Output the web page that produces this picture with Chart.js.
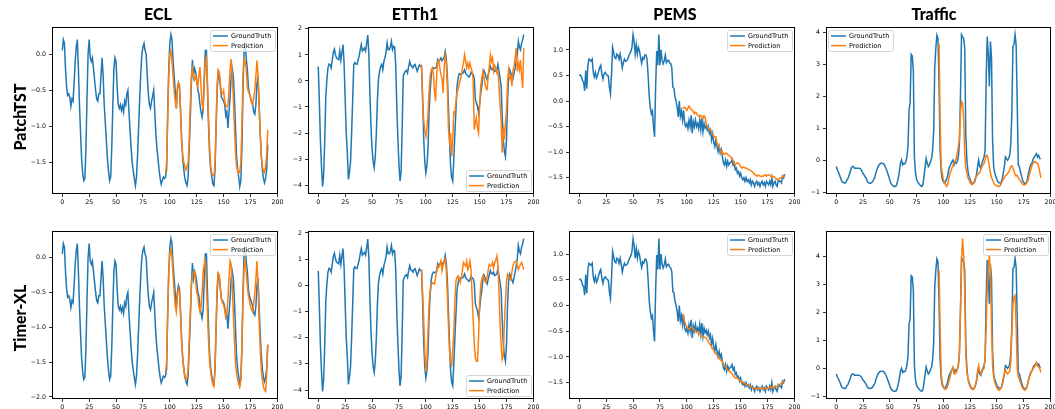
<!DOCTYPE html>
<html>
<head>
<meta charset="utf-8">
<script src="https://cdn.jsdelivr.net/npm/chart.js@4.4.0/dist/chart.umd.min.js"></script>
<style>
  body { margin: 0; background: #fff; }
  #figura { position: relative; width: 1055px; height: 409px; overflow: hidden; }
  .titulo { position: absolute; font-family: Lato, sans-serif; font-weight: 900; font-size: 16px; color: #000; transform: translate(-50%, -50%); white-space: nowrap; }
  .fila { position: absolute; font-family: Lato, sans-serif; font-weight: 900; font-size: 16px; color: #000; transform: translate(-50%, -50%) rotate(-90deg); white-space: nowrap; }
  .panel { position: absolute; }
</style>
</head>
<body>
<div id="figura"></div>
<script>
// ejes
const ticksX = [0, 25, 50, 75, 100, 125, 150, 175, 200]
const etiquetasX = ["0", "25", "50", "75", "100", "125", "150", "175", "200"]
const inicioPred = 96

const eclTicks = [0.0, -0.5, -1.0, -1.5]
const eclEtiquetas = ["0.0", "\u22120.5", "\u22121.0", "\u22121.5"]
const eclTicks2 = [0.0, -0.5, -1.0, -1.5, -2.0]
const eclEtiquetas2 = ["0.0", "\u22120.5", "\u22121.0", "\u22121.5", "\u22122.0"]
const etthTicks = [2, 1, 0, -1, -2, -3, -4]
const etthEtiquetas = ["2", "1", "0", "\u22121", "\u22122", "\u22123", "\u22124"]
const pemsTicks = [1.0, 0.5, 0.0, -0.5, -1.0, -1.5]
const pemsEtiquetas = ["1.0", "0.5", "0.0", "\u22120.5", "\u22121.0", "\u22121.5"]
const trafficTicks = [4, 3, 2, 1, 0, -1]
const trafficEtiquetas = ["4", "3", "2", "1", "0", "\u22121"]

// ECL
const eclTruth = [0.05,0.2,0.15,-0.2,-0.45,-0.57,-0.55,-0.6,-0.72,-0.62,
-0.65,-0.4,-0.1,0.1,0.2,-0.2,-0.7,-1.1,-1.45,-1.65,
-1.75,-1.72,-1.3,-0.6,0.0,0.2,-0.05,-0.1,-0.05,-0.2,
-0.35,-0.5,-0.62,-0.65,-0.55,-0.55,-0.3,-0.05,-0.3,-0.7,
-0.95,-1.2,-1.45,-1.62,-1.75,-1.7,-1.3,-0.7,-0.2,-0.05,
-0.1,-0.45,-0.7,-0.75,-0.7,-0.78,-0.72,-0.8,-0.65,-0.7,
-0.55,-0.5,-0.8,-1.05,-1.3,-1.5,-1.62,-1.72,-1.82,-1.7,
-1.4,-1.0,-0.6,-0.25,0.0,0.1,0.15,0.05,0.0,-0.3,
-0.55,-0.7,-0.75,-0.65,-0.58,-0.5,-0.8,-1.1,-1.3,-1.45,
-1.6,-1.72,-1.8,-1.75,-1.7,-1.72,
-1.7,-1.6,-0.8,-0.2,0.15,0.27,0.2,-0.1,-0.3,-0.5,
-0.75,-0.5,-0.4,-0.45,-0.8,-1.2,-1.45,-1.6,-1.72,-1.78,
-1.82,-1.7,-1.3,-0.9,-0.4,-0.08,-0.3,-0.2,-0.25,-0.35,
-0.5,-0.55,-0.7,-0.8,-0.87,-0.75,-0.3,0.05,0.05,-0.5,
-1.0,-1.4,-1.6,-1.7,-1.8,-1.82,-1.6,-1.0,-0.5,-0.25,
-0.3,-0.45,-0.6,-0.62,-0.65,-0.7,-0.85,-0.8,-1.02,-0.8,
-0.6,-0.3,-0.2,-0.3,-0.6,-1.0,-1.4,-1.6,-1.7,-1.83,
-1.75,-1.3,-0.5,0.05,0.15,-0.05,-0.2,-0.45,-0.55,-0.6,
-0.65,-0.7,-0.8,-0.83,-0.7,-0.4,-0.3,-0.7,-1.1,-1.4,
-1.6,-1.72,-1.78,-1.72,-1.6,-1.25]
const eclPatchTST = [-1.65,-1.5,-0.9,-0.3,0.0,0.05,-0.1,-0.3,-0.5,-0.65,
-0.75,-0.45,-0.4,-0.42,-0.8,-1.2,-1.4,-1.5,-1.55,-1.6,
-1.55,-1.5,-1.2,-0.7,-0.3,-0.2,-0.3,-0.35,-0.3,-0.4,
-0.45,-0.3,-0.18,-0.45,-0.7,-0.75,-0.4,-0.1,-0.05,-0.4,
-0.9,-1.3,-1.55,-1.65,-1.68,-1.68,-1.5,-1.0,-0.4,-0.22,
-0.25,-0.4,-0.55,-0.55,-0.5,-0.65,-0.72,-0.73,-0.7,-0.5,
-0.2,-0.07,-0.3,-0.6,-1.0,-1.35,-1.55,-1.62,-1.65,-1.62,
-1.5,-1.0,-0.3,-0.07,-0.1,-0.2,-0.45,-0.52,-0.55,-0.6,
-0.68,-0.7,-0.6,-0.5,-0.3,-0.09,-0.3,-0.7,-1.1,-1.4,
-1.55,-1.62,-1.64,-1.55,-1.4,-1.05]
const eclTimerXL = [-1.65,-1.5,-0.8,-0.2,0.05,0.12,0.0,-0.25,-0.5,-0.7,
-0.78,-0.55,-0.45,-0.5,-0.85,-1.2,-1.45,-1.6,-1.7,-1.75,
-1.72,-1.6,-1.2,-0.8,-0.4,-0.25,-0.2,-0.2,-0.35,-0.5,
-0.55,-0.7,-0.78,-0.7,-0.5,-0.2,-0.1,-0.05,-0.4,-0.8,
-1.2,-1.5,-1.65,-1.75,-1.82,-1.85,-1.6,-1.0,-0.4,-0.22,
-0.25,-0.45,-0.6,-0.65,-0.68,-0.75,-0.85,-0.8,-0.6,-0.3,
-0.05,-0.1,-0.4,-0.8,-1.2,-1.5,-1.65,-1.75,-1.82,-1.85,
-1.75,-1.3,-0.6,-0.15,-0.05,-0.2,-0.4,-0.55,-0.62,-0.7,
-0.75,-0.78,-0.65,-0.5,-0.3,-0.05,-0.4,-0.9,-1.3,-1.6,
-1.75,-1.85,-1.9,-1.92,-1.7,-1.25]

// ETTh1
const etthTruth = [0.55,-0.8,-2.3,-3.3,-4.05,-3.6,-2.3,-0.6,0.05,0.5,
0.65,0.62,0.5,0.8,1.1,1.22,1.0,0.88,0.85,0.82,
1.15,0.8,1.1,1.4,0.7,-0.7,-2.0,-2.75,-3.78,-3.5,
-3.1,-2.0,-0.7,0.62,0.7,0.65,0.63,0.8,0.95,1.2,
1.4,1.15,1.2,1.26,1.15,1.45,1.76,1.07,-0.5,-1.75,
-2.6,-3.1,-3.33,-2.9,-2.0,-0.7,0.1,0.37,0.55,0.63,
0.43,0.75,0.9,1.1,1.46,1.2,1.2,1.3,1.52,1.2,
1.33,1.3,0.6,-1.0,-2.2,-3.2,-3.84,-3.5,-1.8,0.18,
0.3,0.37,0.4,0.3,0.55,0.75,0.6,0.56,0.5,0.6,
0.63,0.5,0.37,0.5,0.62,0.56,
0.56,-0.6,-2.2,-3.1,-3.53,-3.25,-2.6,-1.2,-0.4,0.2,
0.43,0.5,0.48,0.5,0.55,0.82,0.75,0.8,0.88,0.78,
0.85,0.9,1.14,0.88,0.2,-0.97,-2.2,-3.27,-3.7,-3.84,
-3.0,-2.0,-1.1,-0.2,0.1,0.28,0.26,0.27,0.28,0.32,
0.43,0.3,0.24,0.2,0.15,0.2,0.33,0.28,0.25,0.1,
-0.7,-0.85,-0.97,-1.23,-0.9,-0.5,-0.2,0.2,0.4,0.3,
0.15,0.05,0.24,0.4,0.56,0.45,0.43,0.5,0.37,0.4,
0.43,0.63,0.37,0.1,-0.2,-1.35,-2.25,-2.7,-2.9,-2.25,
-0.7,0.2,0.43,0.3,0.2,0.1,0.3,0.5,0.75,1.0,
1.52,1.3,1.2,1.45,1.58,1.78]
const etthPatchTST = [0.63,-0.8,-1.5,-1.9,-2.12,-1.8,-1.3,-0.4,0.2,0.43,
0.5,0.3,-0.4,-0.78,0.18,0.75,0.8,0.5,0.24,0.1,
-0.46,0.5,1.0,0.7,-0.2,-1.8,-2.3,-2.0,-2.9,-2.3,
-1.2,-1.23,-0.8,-0.45,-0.3,-0.14,0.05,0.2,0.5,0.69,
1.0,0.75,0.5,0.69,0.5,0.69,0.5,0.37,0.05,-1.87,
-1.6,-1.4,-1.8,-2.0,-0.97,-0.2,0.1,0.37,0.18,-0.1,
-0.3,-0.33,0.18,0.56,1.0,0.75,0.88,0.4,0.6,0.5,
0.3,0.37,-0.2,-0.9,-1.5,-2.76,-1.74,-2.25,-1.6,-1.1,
0.0,0.43,0.1,0.18,-0.2,0.4,0.56,0.88,1.26,0.37,
0.69,0.43,0.8,0.2,-0.27,1.26]
const etthTimerXL = [0.6,-0.3,-1.3,-2.5,-3.3,-2.9,-1.8,-0.73,-0.2,0.0,
0.1,0.08,0.05,0.3,0.5,0.74,0.68,0.8,0.93,0.55,
0.75,0.9,1.0,0.6,-0.4,-1.5,-2.5,-2.9,-3.03,-2.5,
-1.8,-0.6,0.17,0.3,0.36,0.25,0.1,0.3,0.55,0.87,
0.8,0.74,0.93,0.6,0.7,0.93,0.6,-0.35,-1.3,-2.2,
-2.77,-2.9,-2.9,-2.0,-0.73,0.0,0.23,0.36,0.3,0.15,
0.1,0.3,0.6,0.8,0.74,0.75,0.87,0.65,0.87,0.95,
1.12,0.8,-0.22,-1.5,-2.3,-2.84,-2.7,-1.5,-0.6,0.17,
0.42,0.35,0.25,0.2,0.5,0.75,0.87,0.9,0.93,0.75,
0.6,0.7,0.8,0.87,0.75,0.6]

// PEMS
const pemsTruth = [0.5,0.51,0.48,0.4,0.37,0.2,0.6,0.24,0.7,0.82,
0.8,0.78,0.82,0.56,0.47,0.56,0.45,0.5,0.58,0.66,
0.7,0.53,0.43,0.53,0.56,0.53,0.5,0.49,0.27,0.14,
0.55,1.05,0.95,0.85,0.83,0.92,0.9,0.82,0.92,0.8,
0.65,0.75,0.82,0.78,0.79,0.82,0.88,0.93,0.97,1.05,
1.3,1.17,0.92,1.1,0.92,1.05,0.98,0.85,0.74,0.85,
0.82,0.9,0.9,0.82,0.5,0.1,-0.12,-0.25,-0.2,-0.5,
-0.7,0.3,0.98,0.7,1.3,0.7,1.0,0.8,0.73,0.79,
0.9,0.75,0.79,0.8,0.75,0.73,0.66,0.27,0.25,0.08,
0.0,-0.12,-0.31,0.0,-0.3,-0.2,-0.37,-0.18,-0.44,-0.5,
-0.44,-0.54,-0.38,-0.5,-0.28,-0.63,-0.4,-0.5,-0.37,-0.5,
-0.44,-0.54,-0.37,-0.56,-0.34,-0.6,-0.44,-0.53,-0.48,-0.57,
-0.5,-0.63,-0.57,-0.76,-0.64,-0.8,-0.89,-0.76,-0.89,-0.99,
-0.89,-1.02,-0.95,-1.08,-1.21,-1.25,-1.15,-1.28,-1.18,-1.25,
-1.21,-1.2,-1.15,-1.25,-1.21,-1.34,-1.31,-1.41,-1.38,-1.47,
-1.41,-1.5,-1.54,-1.5,-1.57,-1.5,-1.57,-1.54,-1.6,-1.54,
-1.64,-1.57,-1.6,-1.67,-1.6,-1.57,-1.64,-1.6,-1.67,-1.6,
-1.57,-1.64,-1.6,-1.67,-1.57,-1.6,-1.64,-1.57,-1.64,-1.5,
-1.67,-1.6,-1.57,-1.64,-1.67,-1.54,-1.57,-1.57,-1.6,-1.47,
-1.5,-1.43]
const pemsPatchTST = [-0.15,-0.13,-0.12,-0.15,-0.18,-0.14,-0.1,-0.13,-0.17,-0.18,
-0.2,-0.25,-0.22,-0.24,-0.28,-0.29,-0.31,-0.28,-0.3,-0.34,
-0.29,-0.32,-0.44,-0.5,-0.54,-0.54,-0.56,-0.6,-0.65,-0.69,
-0.7,-0.7,-0.82,-0.86,-0.88,-0.95,-1.02,-0.99,-1.03,-1.05,
-1.02,-1.02,-1.05,-1.06,-1.08,-1.1,-1.12,-1.17,-1.22,-1.25,
-1.22,-1.21,-1.22,-1.25,-1.28,-1.31,-1.3,-1.29,-1.31,-1.31,
-1.32,-1.34,-1.34,-1.35,-1.37,-1.39,-1.41,-1.43,-1.45,-1.47,
-1.45,-1.45,-1.47,-1.47,-1.47,-1.47,-1.45,-1.44,-1.47,-1.45,
-1.44,-1.46,-1.47,-1.49,-1.47,-1.48,-1.5,-1.52,-1.54,-1.54,
-1.52,-1.5,-1.5,-1.48,-1.47,-1.47]
const pemsTimerXL = [-0.16,-0.25,-0.32,-0.37,-0.42,-0.45,-0.46,-0.44,-0.42,-0.43,
-0.45,-0.48,-0.5,-0.52,-0.51,-0.53,-0.55,-0.58,-0.61,-0.6,
-0.61,-0.62,-0.64,-0.67,-0.7,-0.74,-0.77,-0.8,-0.84,-0.87,
-0.91,-0.93,-0.96,-1.0,-1.03,-1.05,-1.07,-1.09,-1.13,-1.17,
-1.2,-1.23,-1.26,-1.27,-1.28,-1.3,-1.33,-1.36,-1.38,-1.41,
-1.4,-1.41,-1.43,-1.45,-1.46,-1.48,-1.5,-1.51,-1.52,-1.54,
-1.54,-1.55,-1.57,-1.57,-1.58,-1.6,-1.6,-1.61,-1.62,-1.62,
-1.61,-1.62,-1.62,-1.61,-1.6,-1.61,-1.62,-1.62,-1.61,-1.6,
-1.61,-1.59,-1.6,-1.58,-1.59,-1.6,-1.58,-1.57,-1.58,-1.56,
-1.54,-1.53,-1.51,-1.49,-1.48,-1.47]

// Traffic
const trafficTruth = [-0.2,-0.3,-0.37,-0.46,-0.55,-0.65,-0.69,-0.7,-0.72,-0.7,
-0.62,-0.57,-0.47,-0.38,-0.25,-0.2,-0.2,-0.25,-0.25,-0.25,
-0.25,-0.25,-0.26,-0.28,-0.35,-0.42,-0.46,-0.52,-0.57,-0.67,
-0.7,-0.72,-0.72,-0.7,-0.67,-0.6,-0.55,-0.4,-0.3,-0.2,
-0.15,-0.11,-0.1,-0.1,-0.11,-0.15,-0.22,-0.3,-0.4,-0.5,
-0.62,-0.72,-0.77,-0.8,-0.82,-0.82,-0.8,-0.7,-0.55,-0.35,
-0.1,0.0,-0.15,-0.1,-0.12,-0.05,0.1,0.43,1.57,1.78,
3.3,3.25,2.8,0.1,-0.4,-0.6,-0.68,-0.72,-0.77,-0.8,
-0.82,-0.75,-0.5,-0.2,0.05,-0.1,-0.2,-0.15,-0.05,0.05,
0.3,0.9,2.9,3.5,3.9,3.8,
2.4,0.3,-0.35,-0.6,-0.67,-0.72,-0.68,-0.6,-0.5,-0.3,
-0.2,-0.12,-0.05,0.0,-0.15,-0.05,-0.1,-0.05,0.1,0.5,
2.0,3.92,3.85,3.8,3.5,0.8,0.0,-0.35,-0.5,-0.6,
-0.7,-0.72,-0.72,-0.7,-0.6,-0.45,-0.2,0.0,-0.2,-0.25,
-0.1,0.0,0.1,0.3,2.5,3.86,3.3,2.3,3.7,3.2,
0.6,-0.2,-0.4,-0.5,-0.6,-0.68,-0.7,-0.72,-0.7,-0.6,
-0.4,-0.2,0.1,0.05,0.0,0.05,0.15,0.5,1.5,3.55,
3.6,3.92,3.6,1.8,-0.15,-0.2,-0.35,-0.5,-0.62,-0.7,
-0.72,-0.72,-0.68,-0.5,-0.35,-0.2,-0.12,-0.08,0.05,0.1,
0.15,0.2,0.1,0.15,0.05,0.05]
const trafficPatchTST = [3.65,1.3,-0.2,-0.4,-0.6,-0.7,-0.75,-0.82,-0.78,-0.6,
-0.45,-0.35,-0.25,-0.15,-0.1,-0.05,0.05,0.2,0.43,0.63,
1.47,1.83,1.78,1.3,0.22,-0.25,-0.4,-0.55,-0.62,-0.7,
-0.75,-0.77,-0.72,-0.65,-0.55,-0.5,-0.46,-0.42,-0.38,-0.3,
-0.2,-0.15,-0.1,0.0,0.15,0.15,0.0,-0.2,-0.4,-0.55,
-0.62,-0.7,-0.77,-0.78,-0.8,-0.82,-0.82,-0.8,-0.75,-0.65,
-0.6,-0.55,-0.48,-0.46,-0.42,-0.38,-0.3,-0.2,-0.18,-0.25,
-0.35,-0.45,-0.5,-0.47,-0.55,-0.6,-0.65,-0.7,-0.75,-0.77,
-0.77,-0.75,-0.7,-0.65,-0.5,-0.38,-0.25,-0.15,-0.1,-0.05,
-0.05,-0.1,-0.1,-0.2,-0.35,-0.55]
const trafficTimerXL = [3.5,1.5,-0.2,-0.5,-0.65,-0.72,-0.75,-0.72,-0.65,-0.5,
-0.35,-0.2,-0.05,0.05,-0.1,-0.2,-0.15,-0.05,0.1,0.5,
2.0,3.8,4.62,4.0,2.8,0.5,-0.1,-0.4,-0.55,-0.65,
-0.72,-0.75,-0.75,-0.72,-0.6,-0.4,-0.1,0.1,-0.1,-0.2,
-0.15,-0.05,0.0,0.3,1.5,2.8,3.6,4.05,3.5,1.5,
0.1,-0.3,-0.5,-0.6,-0.7,-0.75,-0.78,-0.75,-0.7,-0.55,
-0.35,-0.2,-0.05,-0.15,-0.2,-0.15,-0.1,0.2,1.3,2.3,
2.55,2.6,1.5,0.0,-0.3,-0.4,-0.5,-0.62,-0.7,-0.75,
-0.78,-0.75,-0.68,-0.5,-0.35,-0.25,-0.15,-0.05,0.0,0.05,
0.1,0.2,0.1,0.05,0.0,-0.15]

const titulos = ["ECL", "ETTh1", "PEMS", "Traffic"]
const modelos = ["PatchTST", "Timer-XL"]

// posicion de cada panel (area de trazado)
const colX = [52, 308, 569, 826]
const colW = [226, 226, 226, 225]
const filaY = [27, 231]
const filaH = [167, 168]
const tituloX = [158, 415, 675, 934]
const filaLabelY = [117, 318]

const paneles = [
  {col: 0, fila: 0, truth: eclTruth, pred: eclPatchTST, ticks: eclTicks, etiquetas: eclEtiquetas, leyenda: "ur"},
  {col: 1, fila: 0, truth: etthTruth, pred: etthPatchTST, ticks: etthTicks, etiquetas: etthEtiquetas, leyenda: "lr"},
  {col: 2, fila: 0, truth: pemsTruth, pred: pemsPatchTST, ticks: pemsTicks, etiquetas: pemsEtiquetas, leyenda: "ur"},
  {col: 3, fila: 0, truth: trafficTruth, pred: trafficPatchTST, ticks: trafficTicks, etiquetas: trafficEtiquetas, leyenda: "ul"},
  {col: 0, fila: 1, truth: eclTruth, pred: eclTimerXL, ticks: eclTicks2, etiquetas: eclEtiquetas2, leyenda: "ur"},
  {col: 1, fila: 1, truth: etthTruth, pred: etthTimerXL, ticks: etthTicks, etiquetas: etthEtiquetas, leyenda: "lr"},
  {col: 2, fila: 1, truth: pemsTruth, pred: pemsTimerXL, ticks: pemsTicks, etiquetas: pemsEtiquetas, leyenda: "ur"},
  {col: 3, fila: 1, truth: trafficTruth, pred: trafficTimerXL, ticks: trafficTicks, etiquetas: trafficEtiquetas, leyenda: "ur"}
]

const figura = document.getElementById("figura")
const fuenteTicks = {family: "DejaVu Sans", size: 6.3}

// marco de los ejes y leyenda dibujada a mano
const marcoLeyenda = {
  id: "marcoLeyenda",
  afterDraw(chart, args, opts) {
    const ctx = chart.ctx
    const a = chart.chartArea
    ctx.save()
    ctx.strokeStyle = "#000"
    ctx.lineWidth = 1
    ctx.strokeRect(a.left + 0.5, a.top + 0.5, a.right - a.left - 1, a.bottom - a.top - 1)

    const w = 65, h = 21
    const bx = opts.pos[1] === "l" ? a.left + 2 : a.right - 3 - w
    const by = opts.pos[0] === "u" ? a.top + 3 : a.bottom - 3 - h
    ctx.fillStyle = "rgba(255,255,255,0.8)"
    ctx.strokeStyle = "#cccccc"
    ctx.lineWidth = 0.8
    ctx.beginPath()
    ctx.roundRect(bx + 0.5, by + 0.5, w, h, 2)
    ctx.fill()
    ctx.stroke()
    ctx.font = "6.5px 'DejaVu Sans'"
    ctx.textBaseline = "middle"
    chart.data.datasets.forEach((ds, k) => {
      const yy = by + 6 + k * 9.6
      ctx.strokeStyle = ds.borderColor
      ctx.lineWidth = 1.5
      ctx.beginPath()
      ctx.moveTo(bx + 3, yy)
      ctx.lineTo(bx + 18, yy)
      ctx.stroke()
      ctx.fillStyle = "#000"
      ctx.fillText(ds.label, bx + 21, yy + 0.5)
    })
    ctx.restore()
  }
}

function crearPanel(p) {
  const L = colX[p.col], T = filaY[p.fila], W = colW[p.col], H = filaH[p.fila]
  const div = document.createElement("div")
  div.className = "panel"
  div.style.left = (L - 40) + "px"
  div.style.top = (T - 8) + "px"
  const canvas = document.createElement("canvas")
  canvas.width = W + 48
  canvas.height = H + 8 + 22
  canvas.style.width = canvas.width + "px"
  canvas.style.height = canvas.height + "px"
  div.appendChild(canvas)
  figura.appendChild(div)

  // limites como matplotlib (5% de margen)
  const todos = p.truth.concat(p.pred)
  const yMin = Math.min(...todos), yMax = Math.max(...todos)
  const margen = 0.05 * (yMax - yMin)
  const xMax = p.truth.length - 1

  new Chart(canvas, {
    type: "line",
    data: {
      datasets: [
        {label: "GroundTruth", data: p.truth.map((v, i) => ({x: i, y: v})), borderColor: "#1f77b4", order: 2},
        {label: "Prediction", data: p.pred.map((v, i) => ({x: inicioPred + i, y: v})), borderColor: "#ff7f0e", order: 1}
      ]
    },
    options: {
      responsive: false,
      animation: false,
      devicePixelRatio: 1,
      layout: {padding: {top: 8, right: 8, left: 0, bottom: 0}},
      elements: {
        point: {radius: 0},
        line: {borderWidth: 1.5, tension: 0, fill: false}
      },
      plugins: {
        legend: {display: false},
        tooltip: {enabled: false},
        marcoLeyenda: {pos: p.leyenda}
      },
      scales: {
        x: {
          type: "linear",
          min: -0.05 * xMax,
          max: xMax * 1.05,
          afterBuildTicks: s => { s.ticks = ticksX.map(v => ({value: v})) },
          afterFit: s => { s.height = 22; s.paddingLeft = 0; s.paddingRight = 0 },
          ticks: {font: fuenteTicks, color: "#000", padding: 2, maxRotation: 0, autoSkip: false,
            callback: (v, i) => etiquetasX[i]},
          grid: {drawOnChartArea: false, drawTicks: true, tickLength: 3, color: "#000", lineWidth: 0.8},
          border: {display: false}
        },
        y: {
          type: "linear",
          min: yMin - margen,
          max: yMax + margen,
          afterBuildTicks: s => { s.ticks = p.ticks.map(v => ({value: v})) },
          afterFit: s => { s.width = 40; s.paddingTop = 0; s.paddingBottom = 0 },
          ticks: {font: fuenteTicks, color: "#000", padding: 3, autoSkip: false,
            callback: (v, i) => p.etiquetas[i]},
          grid: {drawOnChartArea: false, drawTicks: true, tickLength: 3, color: "#000", lineWidth: 0.8},
          border: {display: false}
        }
      }
    },
    plugins: [marcoLeyenda]
  })
}

paneles.forEach(p => crearPanel(p))

// titulos de columna y nombres de fila
titulos.forEach((t, i) => {
  const d = document.createElement("div")
  d.className = "titulo"
  d.textContent = t
  d.style.left = tituloX[i] + "px"
  d.style.top = "13px"
  figura.appendChild(d)
})
modelos.forEach((m, i) => {
  const d = document.createElement("div")
  d.className = "fila"
  d.textContent = m
  d.style.left = "19px"
  d.style.top = filaLabelY[i] + "px"
  figura.appendChild(d)
})
</script>
</body>
</html>
